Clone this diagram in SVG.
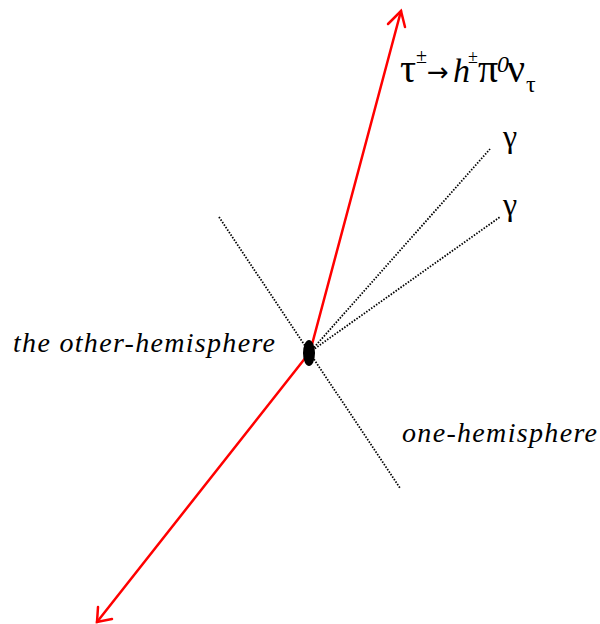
<svg xmlns="http://www.w3.org/2000/svg" width="600" height="624" viewBox="0 0 600 624">
<style>
.red{stroke:#ff0000;stroke-width:2.5;fill:none;stroke-linecap:round}
.dot{stroke:#000;stroke-width:1.8;fill:none;stroke-dasharray:1.5 1.5}
</style>
<rect width="600" height="624" fill="#fff"/>
<g id="connectors">
<line class="dot" x1="219" y1="217" x2="400" y2="488"/>
<line class="dot" x1="310" y1="352" x2="490" y2="149"/>
<line class="dot" x1="310" y1="352" x2="500" y2="217"/>
<line class="red" x1="310" y1="352" x2="401" y2="11"/>
<polyline class="red" points="388,24 401,11 405,27"/>
<line class="red" x1="310" y1="352" x2="97" y2="622"/>
<polyline class="red" points="98,607 97,622 112,619"/>
</g>
<g id="vertex"><ellipse cx="309" cy="353" rx="6" ry="13" fill="#000"/></g>
<g id="decay-label" font-family="Liberation Serif" fill="#000">
<text x="400" y="82" font-size="40">τ</text>
<text x="416" y="63" font-size="20">±</text>
<text x="427" y="81" font-size="26" font-family="DejaVu Sans">→</text>
<text x="453" y="82" font-size="34" font-style="italic">h</text>
<text x="468" y="63" font-size="18">±</text>
<text x="478" y="82" font-size="40">π</text>
<text x="497" y="72" font-size="24" font-style="italic">0</text>
<text x="507" y="82" font-size="40">ν</text>
<text x="526" y="92" font-size="24">τ</text>
</g>
<g id="gamma1"><text x="503" y="147" font-family="Liberation Serif" font-size="32">γ</text></g>
<g id="gamma2"><text x="503" y="215" font-family="Liberation Serif" font-size="32">γ</text></g>
<g id="other-hemisphere"><text x="13" y="352" font-family="Liberation Serif" font-style="italic" font-size="28" textLength="262" lengthAdjust="spacing">the other-hemisphere</text></g>
<g id="one-hemisphere"><text x="402" y="442" font-family="Liberation Serif" font-style="italic" font-size="28" textLength="195" lengthAdjust="spacing">one-hemisphere</text></g>
</svg>
